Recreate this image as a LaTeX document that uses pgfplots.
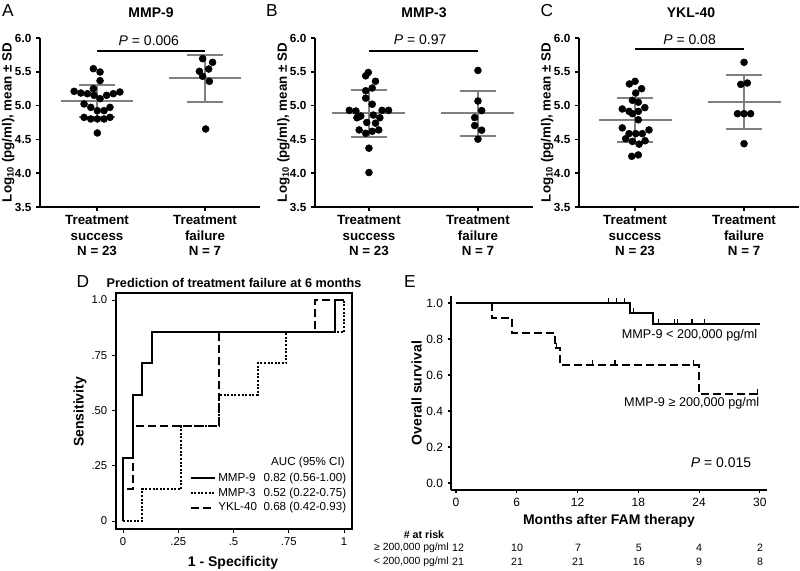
\documentclass[border=0pt]{standalone}
\usepackage{fontspec}
\setmainfont{Liberation Sans}
\usepackage{pgfplots}
\pgfplotsset{compat=1.18}
\definecolor{sdgray}{RGB}{128,128,128}
\newcommand\fs[2]{\fontsize{#1}{#2}\selectfont}
\pgfplotsset{
  dotpanel/.style={
    scale only axis, height=126.75pt, clip=false,
    ymin=3.5, ymax=6.0,
    axis lines*=left,
    axis line style={line width=1.1pt},
    tick align=outside, major tick length=3pt,
    tick style={line width=1.1pt, black},
    ytick={3.5,4,4.5,5,5.5,6},
    /pgf/number format/assume math mode=true,
    yticklabel style={font=\fs{8.8}{10}\bfseries, /pgf/number format/fixed, /pgf/number format/fixed zerofill, /pgf/number format/precision=1},
    xtick={0,1},
    xticklabels={{Treatment\\success\\N = 23},{Treatment\\failure\\N = 7}},
    xticklabel style={align=center, font=\fs{10}{11.6}\bfseries},
    ylabel={Log\textsubscript{10} (pg/ml), mean ± SD},
    ylabel style={at={(axis description cs:-0.145,0.5)}, anchor=center, font=\fs{10}{12}\bfseries},
  },
  pts/.style={only marks, mark=*, mark size=2.6pt, black, mark options={draw=black, fill=black}},
  sdl/.style={sdgray, line width=1.4pt},
  pbar/.style={black, line width=1.5pt},
}
\begin{document}
\begin{tikzpicture}[x=0.75pt, y=0.75pt]
\useasboundingbox (0,0) rectangle (800,571);

% ---------------- Panel A ----------------
\begin{axis}[dotpanel, at={(30pt,273pt)}, anchor=south west, width=165pt, xmin=-0.528, xmax=1.509]
\addplot[pts] coordinates {(-0.034,5.546) (0.028,5.497) (0.028,5.369) (-0.034,5.25) (-0.212,5.211) (-0.15,5.186) (-0.089,5.176) (-0.028,5.152) (0.028,5.103) (0.089,5.152) (0.151,5.176) (0.212,5.201) (-0.12,5.024) (-0.058,4.974) (0.003,4.925) (0.065,4.925) (0.12,4.974) (-0.12,4.826) (-0.058,4.802) (0.003,4.802) (0.065,4.802) (0.12,4.826) (0.003,4.595)};
\addplot[pts] coordinates {(0.978,5.694) (1.07,5.64) (0.948,5.507) (1.034,5.541) (0.978,5.433) (1.04,5.359) (1.006,4.654)};
\addplot[sdl] coordinates {(-0.335,5.063) (0.335,5.063)};
\addplot[sdl] coordinates {(-0.167,5.30) (0.167,5.30)};
\addplot[sdl] coordinates {(-0.167,4.836) (0.167,4.836)};
\addplot[sdl] coordinates {(0,4.836) (0,5.30)};
\addplot[sdl] coordinates {(0.665,5.403) (1.335,5.403)};
\addplot[sdl] coordinates {(0.833,5.753) (1.167,5.753)};
\addplot[sdl] coordinates {(0.833,5.053) (1.167,5.053)};
\addplot[sdl] coordinates {(1,5.053) (1,5.753)};
\addplot[pbar] coordinates {(0,5.81) (1,5.81)};
\node[font=\fs{10.5}{12}] at (axis cs:0.48,5.96) {\textit{P} = 0.006};
\end{axis}

% ---------------- Panel B ----------------
\begin{axis}[dotpanel, at={(236.25pt,273pt)}, anchor=south west, width=163.5pt, xmin=-0.495, xmax=1.505]
\addplot[pts] coordinates {(-0.006,5.49) (-0.03,5.44) (0.06,5.36) (0.03,5.26) (-0.03,5.22) (-0.03,5.11) (0.03,5.02) (-0.18,4.93) (-0.12,4.92) (0.12,4.93) (0.18,4.93) (-0.11,4.82) (-0.075,4.845) (0.04,4.86) (0.1,4.82) (-0.02,4.75) (0.06,4.74) (-0.09,4.64) (-0.03,4.59) (0.03,4.62) (0.09,4.64) (0,4.37) (0,4.01)};
\addplot[pts] coordinates {(1,5.52) (1,5.068) (1.034,4.926) (0.97,4.823) (0.97,4.705) (1.034,4.636) (1,4.503)};
\addplot[sdl] coordinates {(-0.335,4.886) (0.335,4.886)};
\addplot[sdl] coordinates {(-0.167,5.226) (0.167,5.226)};
\addplot[sdl] coordinates {(-0.167,4.537) (0.167,4.537)};
\addplot[sdl] coordinates {(0,4.537) (0,5.226)};
\addplot[sdl] coordinates {(0.665,4.886) (1.335,4.886)};
\addplot[sdl] coordinates {(0.833,5.216) (1.167,5.216)};
\addplot[sdl] coordinates {(0.833,4.55) (1.167,4.55)};
\addplot[sdl] coordinates {(1,4.55) (1,5.216)};
\addplot[pbar] coordinates {(0,5.81) (1,5.81)};
\node[font=\fs{10.5}{12}] at (axis cs:0.47,5.97) {\textit{P} = 0.97};
\end{axis}

% ---------------- Panel C ----------------
\begin{axis}[dotpanel, at={(434.25pt,273pt)}, anchor=south west, width=165pt, xmin=-0.514, xmax=1.504]
\addplot[pts] coordinates {(0,5.359) (-0.052,5.32) (0.06,5.25) (0.006,5.186) (-0.024,5.078) (0.03,5.05) (-0.117,4.95) (-0.055,4.915) (-0.024,4.88) (0.03,4.915) (0.09,4.97) (0.03,4.79) (-0.117,4.67) (-0.055,4.585) (0.006,4.585) (0.067,4.585) (0.128,4.64) (-0.086,4.51) (-0.024,4.47) (0.037,4.43) (0.092,4.48) (-0.03,4.25) (0.03,4.27)};
\addplot[pts] coordinates {(1,5.64) (0.97,5.314) (1.03,5.334) (0.94,4.88) (1,4.88) (1.06,4.88) (1,4.436)};
\addplot[sdl] coordinates {(-0.335,4.787) (0.335,4.787)};
\addplot[sdl] coordinates {(-0.167,5.112) (0.167,5.112)};
\addplot[sdl] coordinates {(-0.167,4.466) (0.167,4.466)};
\addplot[sdl] coordinates {(0,4.466) (0,5.112)};
\addplot[sdl] coordinates {(0.665,5.053) (1.335,5.053)};
\addplot[sdl] coordinates {(0.833,5.453) (1.167,5.453)};
\addplot[sdl] coordinates {(0.833,4.654) (1.167,4.654)};
\addplot[sdl] coordinates {(1,4.654) (1,5.453)};
\addplot[pbar] coordinates {(0,5.84) (1,5.84)};
\node[font=\fs{10.5}{12}] at (axis cs:0.5,5.98) {\textit{P} = 0.08};
\end{axis}

% ---------------- Panel D ----------------
\begin{axis}[at={(87pt,31.5pt)}, anchor=south west, scale only axis, width=177pt, height=177pt,
  xmin=-0.032, xmax=1.036, ymin=-0.036, ymax=1.032,
  xtick={0,0.25,0.5,0.75,1}, xticklabels={0,.25,.5,.75,1},
  ytick={0,0.25,0.5,0.75,1}, yticklabels={0,.25,.50,.75,1.0},
  tick align=outside, xtick pos=left, ytick pos=left, major tick length=3pt,
  axis line style={line width=1pt}, tick style={black, line width=0.8pt},
  ticklabel style={font=\fs{8.5}{10}},
  xlabel={1 - Specificity}, ylabel={Sensitivity},
  label style={font=\fs{10.5}{12}\bfseries},
  xlabel style={at={(axis description cs:0.496,-0.144)}, anchor=center},
  ylabel style={at={(axis description cs:-0.153,0.496)}, anchor=center},
  legend style={at={(axis cs:0.30,0.223)}, anchor=north west, draw=none, fill=none,
    font=\fs{8.7}{10}, row sep=1.5pt, inner sep=0pt,
    nodes={inner ysep=0.5pt, text height=6.5pt, text depth=2pt}},
  legend cell align=left,
  legend image code/.code={\draw[#1] (0pt,0pt) -- (18pt,0pt);},
  clip=false,
]
\addplot[black, line width=1.5pt] coordinates {(0,0) (0,0.286) (0.0435,0.286) (0.0435,0.571) (0.087,0.571) (0.087,0.714) (0.13,0.714) (0.13,0.857) (0.957,0.857) (0.957,1) (1,1)};
\addlegendentry{\makebox[34pt][l]{MMP-9}0.82 (0.56-1.00)}
\addplot[black, line width=1.5pt, dash pattern=on 1.5pt off 1.2pt] coordinates {(0,0) (0.087,0) (0.087,0.143) (0.261,0.143) (0.261,0.429) (0.435,0.429) (0.435,0.571) (0.609,0.571) (0.609,0.714) (0.739,0.714) (0.739,0.857) (1,0.857) (1,1)};
\addlegendentry{\makebox[34pt][l]{MMP-3}0.52 (0.22-0.75)}
\addplot[black, line width=1.5pt, dash pattern=on 6pt off 3pt] coordinates {(0,0) (0,0.143) (0.0435,0.143) (0.0435,0.429) (0.435,0.429) (0.435,0.857) (0.87,0.857) (0.87,1) (1,1)};
\addlegendentry{\makebox[34pt][l]{YKL-40}0.68 (0.42-0.93)}
\node[font=\fs{8.7}{10}, anchor=west] at (axis cs:0.649,0.267) {AUC (95\% CI)};
\end{axis}

% ---------------- Panel E ----------------
\begin{axis}[at={(338.25pt,60.75pt)}, anchor=south west, scale only axis, width=237pt, height=145.5pt,
  xmin=-0.49, xmax=30.70, ymin=-0.039, ymax=1.039,
  axis lines*=left, tick align=outside, major tick length=2.5pt,
  axis line style={line width=1pt}, tick style={black, line width=0.8pt},
  xtick={0,6,12,18,24,30}, ytick={0,0.2,0.4,0.6,0.8,1},
  /pgf/number format/assume math mode=true,
  ticklabel style={font=\fs{9}{10}},
  yticklabel style={/pgf/number format/fixed, /pgf/number format/fixed zerofill, /pgf/number format/precision=1},
  xlabel={Months after FAM therapy}, ylabel={Overall survival},
  label style={font=\fs{10.5}{12}\bfseries},
  xlabel style={at={(axis description cs:0.50,-0.16)}, anchor=center},
  ylabel style={at={(axis description cs:-0.109,0.5)}, anchor=center},
  clip=false,
]
\addplot[black, line width=1.5pt] coordinates {(0,1) (17.2,1) (17.2,0.944) (19.4,0.944) (19.4,0.883) (30,0.883)};
\addplot[black, line width=1.5pt, dash pattern=on 6pt off 3pt] coordinates {(0,1) (3.6,1) (3.6,0.917) (5.55,0.917) (5.55,0.833) (9.75,0.833) (9.75,0.75) (10.3,0.75) (10.3,0.655) (24.0,0.655) (24.0,0.495) (30,0.495)};
\addplot[only marks, mark=|, mark size=2pt, black, mark options={line width=0.8pt, yshift=1.5pt}] coordinates {(15.1,1) (15.8,1) (16.6,1) (17.5,0.944) (20.0,0.883) (21.6,0.883) (21.9,0.883) (23.3,0.883) (24.5,0.883)};
\addplot[only marks, mark=|, mark size=2pt, black, mark options={line width=0.8pt, yshift=1.5pt}] coordinates {(9.9,0.75) (13.5,0.655) (15.7,0.655) (23.4,0.655) (29.8,0.495)};
\end{axis}

% ---------------- Text ----------------
\node[font=\fs{13}{15}] at (8,560) {A};
\node[font=\fs{13}{15}] at (272,560) {B};
\node[font=\fs{13}{15}] at (547,560) {C};
\node[font=\fs{13}{15}] at (83,289) {D};
\node[font=\fs{13}{15}] at (410,289) {E};
\node[font=\fs{10.5}{12}\bfseries] at (151,558) {MMP-9};
\node[font=\fs{10.5}{12}\bfseries] at (424,558) {MMP-3};
\node[font=\fs{10.5}{12}\bfseries] at (691,558) {YKL-40};
\node[font=\fs{9.5}{11}\bfseries] at (234,288) {Prediction of treatment failure at 6 months};
\node[font=\fs{9.5}{11}, anchor=east] at (762,236) {MMP-9 < 200,000 pg/ml};
\node[font=\fs{9.5}{11}, anchor=east] at (764,168) {MMP-9 ≥ 200,000 pg/ml};
\node[font=\fs{10.5}{12}] at (721,108) {\textit{P} = 0.015};
\node[font=\fs{8}{10}\bfseries] at (424,36) {\# at risk};
\node[font=\fs{7.8}{10}, anchor=east, inner xsep=0pt] at (449,23) {≥ 200,000 pg/ml};
\node[font=\fs{7.8}{10}, anchor=east, inner xsep=0pt] at (449,9) {< 200,000 pg/ml};
\foreach \xx/\a/\b in {458/12/21, 517/10/21, 578/7/21, 638.8/5/16, 699/4/9, 760/2/8} {
  \node[font=\fs{8}{10}] at (\xx,23) {\a};
  \node[font=\fs{8}{10}] at (\xx,9) {\b};
}
\end{tikzpicture}
\end{document}
